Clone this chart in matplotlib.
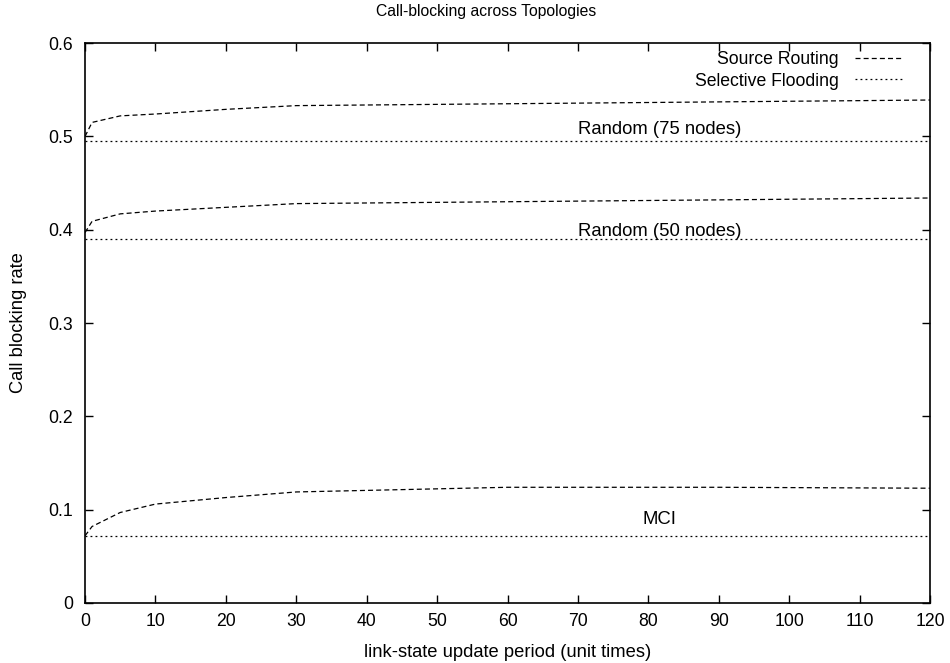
import numpy as np
from matplotlib import pyplot as plt

# periodo de actualizacion (unit times)
periodo = [0, 1, 5, 10, 20, 30, 60, 90, 120]

# source routing, una serie por topologia
sr_75 = [0.500, 0.515, 0.522, 0.524, 0.529, 0.533, 0.535, 0.537, 0.539]
sr_50 = [0.397, 0.409, 0.417, 0.420, 0.424, 0.428, 0.430, 0.432, 0.434]
sr_mci = [0.072, 0.082, 0.097, 0.106, 0.113, 0.119, 0.124, 0.124, 0.123]

# selective flooding es constante
sf_75 = 0.495
sf_50 = 0.390
sf_mci = 0.072

etiquetas = ["Random (75 nodes)", "Random (50 nodes)", "MCI"]
pos_etiquetas = [(81.6, 0.507), (81.6, 0.398), (81.6, 0.089)]

plt.rcParams['font.family'] = ['Liberation Sans', 'DejaVu Sans']

fig = plt.figure()
fig.set_size_inches((9.5, 6.63))
ax = fig.add_axes([0.0895, 0.0905, 0.8895, 0.8445])

estilo_sr = dict(color='black', lw=0.9, ls=(0, (4, 2.5)))
estilo_sf = dict(color='black', lw=0.9, ls=(0, (1.5, 2.5)))

ax.plot(periodo, sr_75, label='Source Routing', **estilo_sr)
ax.plot(periodo, sr_50, **estilo_sr)
ax.plot(periodo, sr_mci, **estilo_sr)

x_sf = [periodo[0], periodo[-1]]
ax.plot(x_sf, [sf_75] * 2, label='Selective Flooding', **estilo_sf)
ax.plot(x_sf, [sf_50] * 2, **estilo_sf)
ax.plot(x_sf, [sf_mci] * 2, **estilo_sf)

for texto, (x, y) in zip(etiquetas, pos_etiquetas):
    ax.text(x, y, texto, ha='center', va='center', fontsize=13.3)

ax.set_xlim(0, 120)
ax.set_ylim(0, 0.6)
ax.set_xticks(np.arange(0, 121, 10))
ax.set_yticks([0, 0.1, 0.2, 0.3, 0.4, 0.5, 0.6])
ax.set_yticklabels(['0', '0.1', '0.2', '0.3', '0.4', '0.5', '0.6'])
ax.tick_params(direction='in', top=True, right=True, length=6, width=1,
               labelsize=12.7)
ax.tick_params(axis='y', pad=8.5)
ax.tick_params(axis='x', pad=7.5)
for s in ax.spines.values():
    s.set_linewidth(1.2)

ax.set_xlabel('link-state update period (unit times)', fontsize=13.2)
ax.xaxis.set_label_coords(0.5, -0.073)
ax.set_ylabel('Call blocking rate', fontsize=13.2)
ax.yaxis.set_label_coords(-0.0686, 0.5)
fig.text(0.5116, 0.982, 'Call-blocking across Topologies', fontsize=11.3,
         ha='center', va='center')

ax.legend(loc='upper right', frameon=False, markerfirst=False,
          fontsize=12.7, handlelength=2.7, handletextpad=0.95,
          labelspacing=0.25, borderpad=0, borderaxespad=0,
          bbox_to_anchor=(1 - 27 / 845, 1 - 8 / 560))

fig.savefig('out.png', dpi=100)
